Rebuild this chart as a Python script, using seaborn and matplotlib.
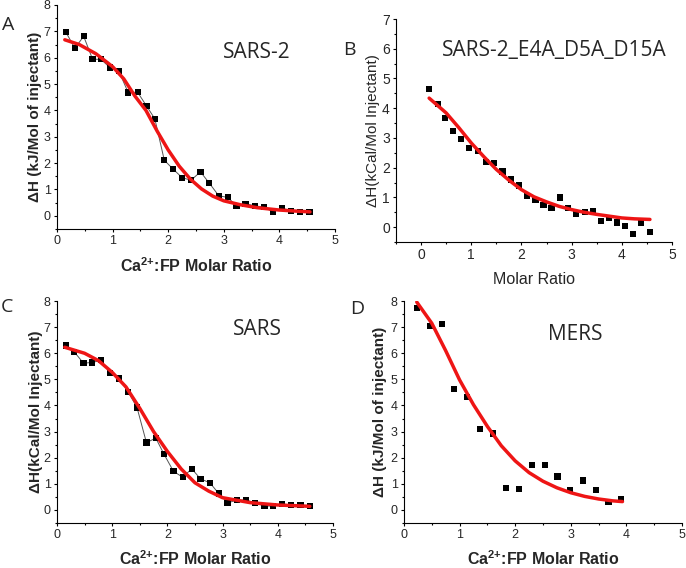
import matplotlib
matplotlib.use('Agg')
import matplotlib.pyplot as plt
import seaborn as sns
import pandas as pd
from matplotlib.ticker import MultipleLocator

# Panel A: SARS-2 (kJ/mol)
a_ratio = [0.16, 0.32, 0.48, 0.64, 0.79, 0.95, 1.11, 1.28, 1.45, 1.61, 1.76, 1.93, 2.09, 2.25,
           2.41, 2.58, 2.74, 2.91, 3.07, 3.23, 3.39, 3.56, 3.73, 3.88, 4.05, 4.21, 4.37, 4.54]
a_dh = [6.97, 6.36, 6.81, 5.94, 5.94, 5.63, 5.50, 4.68, 4.69, 4.17, 3.68, 2.11, 1.77, 1.45,
        1.35, 1.67, 1.24, 0.76, 0.70, 0.38, 0.46, 0.38, 0.33, 0.15, 0.29, 0.19, 0.15, 0.15]
a_fit_x = [0.14, 0.4, 0.7, 1.0, 1.2, 1.4, 1.6, 1.8, 2.0, 2.2, 2.4, 2.6, 2.8, 3.0, 3.3, 3.6, 4.0, 4.3, 4.55]
a_fit_y = [6.68, 6.50, 6.15, 5.66, 5.20, 4.55, 4.00, 3.22, 2.50, 1.88, 1.39, 1.02, 0.75, 0.57,
           0.42, 0.31, 0.22, 0.18, 0.15]

# Panel B: SARS-2_E4A_D5A_D15A (kcal/mol)
b_ratio = [0.16, 0.33, 0.48, 0.64, 0.80, 0.96, 1.13, 1.29, 1.46, 1.62, 1.79, 1.95, 2.11, 2.28,
           2.44, 2.60, 2.77, 2.93, 3.09, 3.26, 3.42, 3.58, 3.75, 3.91, 4.06, 4.23, 4.38, 4.56]
b_dh = [4.64, 4.14, 3.67, 3.23, 2.96, 2.67, 2.57, 2.18, 2.17, 1.87, 1.60, 1.40, 1.04, 0.92,
        0.75, 0.65, 1.00, 0.65, 0.45, 0.51, 0.53, 0.22, 0.30, 0.16, 0.04, -0.23, 0.15, -0.16]
b_fit_x = [0.16, 0.5, 0.75, 1.0, 1.25, 1.5, 1.75, 2.0, 2.25, 2.5, 2.75, 3.0, 3.25, 3.5, 3.75, 4.0, 4.25, 4.56]
b_fit_y = [4.34, 3.84, 3.35, 2.83, 2.37, 1.94, 1.58, 1.26, 1.02, 0.85, 0.70, 0.59, 0.50, 0.43,
           0.37, 0.31, 0.28, 0.26]

# Panel C: SARS (kcal/mol)
c_ratio = [0.16, 0.31, 0.48, 0.64, 0.80, 0.96, 1.13, 1.29, 1.45, 1.62, 1.79, 1.94, 2.11, 2.28,
           2.44, 2.60, 2.77, 2.93, 3.09, 3.26, 3.43, 3.59, 3.76, 3.92, 4.08, 4.24, 4.41, 4.58]
c_dh = [6.30, 6.06, 5.62, 5.65, 5.73, 5.25, 5.03, 4.52, 3.92, 2.58, 2.75, 2.13, 1.48, 1.25,
        1.58, 1.19, 1.04, 0.63, 0.27, 0.38, 0.38, 0.27, 0.15, 0.15, 0.23, 0.19, 0.19, 0.15]
c_fit_x = [0.14, 0.5, 0.75, 1.0, 1.25, 1.5, 1.75, 2.0, 2.25, 2.5, 2.75, 3.0, 3.5, 4.0, 4.58]
c_fit_y = [6.23, 6.00, 5.72, 5.27, 4.71, 3.89, 3.00, 2.24, 1.57, 1.04, 0.72, 0.47, 0.28, 0.19, 0.14]

# Panel D: MERS (kJ/mol)
d_ratio = [0.23, 0.47, 0.68, 0.90, 1.14, 1.37, 1.60, 1.84, 2.07, 2.30, 2.53, 2.76, 2.99, 3.22,
           3.46, 3.68, 3.90]
d_dh = [7.73, 7.03, 7.12, 4.63, 4.32, 3.10, 2.93, 0.83, 0.80, 1.73, 1.73, 1.28, 0.75, 1.13,
        0.77, 0.30, 0.41]
d_fit_x = [0.23, 0.5, 0.75, 1.0, 1.25, 1.5, 1.75, 2.0, 2.25, 2.5, 2.75, 3.0, 3.25, 3.5, 3.75, 3.93]
d_fit_y = [7.96, 7.15, 6.10, 4.98, 4.03, 3.20, 2.46, 1.88, 1.43, 1.10, 0.85, 0.66, 0.52, 0.42,
           0.35, 0.32]

sns.set_style('ticks')
plt.rcParams['font.family'] = ['Liberation Sans', 'DejaVu Sans']
plt.rcParams['mathtext.fontset'] = 'custom'
plt.rcParams['mathtext.rm'] = 'Liberation Sans'
plt.rcParams['mathtext.bf'] = 'Liberation Sans:bold'

fig = plt.figure(figsize=(6.86, 5.68), dpi=100)

xlab_bold = r'Ca$^{\mathbf{2{+}}}$:FP Molar Ratio'

panels = [
    dict(rect=[0.0831, 0.5968, 0.4052, 0.3944], x=a_ratio, y=a_dh, fx=a_fit_x, fy=a_fit_y,
         connect=True, xlim=(0, 5), ylim=(-0.5, 8), ylabel='ΔH (kJ/Mol of injectant)',
         xlabel=xlab_bold, bold=True, title='SARS-2', tpos=(0.597, 0.79), letter='A',
         lpos=(8, 25), ylc=-0.054, xlc=-0.12, tick=9),
    dict(rect=[0.5773, 0.5739, 0.4023, 0.3926], x=b_ratio, y=b_dh, fx=b_fit_x, fy=b_fit_y,
         connect=False, xlim=(-0.5, 5), ylim=(-0.5, 7), ylabel='ΔH(kCal/Mol Injectant)',
         xlabel='Molar Ratio', bold=False, title='SARS-2_E4A_D5A_D15A', tpos=(0.167, 0.861),
         letter='B', lpos=(349, 50), ylc=-0.058, xlc=-0.135, tick=10),
    dict(rect=[0.0831, 0.0792, 0.4023, 0.3908], x=c_ratio, y=c_dh, fx=c_fit_x, fy=c_fit_y,
         connect=True, xlim=(0, 5), ylim=(-0.5, 8), ylabel='ΔH(kCal/Mol Injectant)',
         xlabel=xlab_bold, bold=True, title='SARS', tpos=(0.638, 0.874), letter='C',
         lpos=(7, 307), ylc=-0.051, xlc=-0.12, tick=9),
    dict(rect=[0.5889, 0.0792, 0.4052, 0.3908], x=d_ratio, y=d_dh, fx=d_fit_x, fy=d_fit_y,
         connect=False, xlim=(0, 5), ylim=(-0.5, 8), ylabel='ΔH (kJ/Mol of injectant)',
         xlabel=xlab_bold, bold=True, title='MERS', tpos=(0.518, 0.851), letter='D',
         lpos=(357, 309), ylc=-0.061, xlc=-0.12, tick=9),
]

for p in panels:
    ax = fig.add_axes(p['rect'])
    df = pd.DataFrame({'ratio': p['x'], 'dh': p['y']})
    fit = pd.DataFrame({'ratio': p['fx'], 'dh': p['fy']})

    # thin grey line joining the points (only A and C)
    if p['connect']:
        sns.lineplot(data=df, x='ratio', y='dh', ax=ax, color='#555555', linewidth=0.7,
                     sort=False, estimator=None, zorder=2)
    sns.scatterplot(data=df, x='ratio', y='dh', ax=ax, marker='s', s=20, color='black',
                    edgecolor='none', zorder=3)
    sns.lineplot(data=fit, x='ratio', y='dh', ax=ax, color='#ee1515', linewidth=2.5,
                 sort=False, estimator=None, zorder=4)

    ax.set_xlim(p['xlim'])
    ax.set_ylim(p['ylim'])
    ax.xaxis.set_major_locator(MultipleLocator(1))
    ax.xaxis.set_minor_locator(MultipleLocator(0.5))
    ax.yaxis.set_major_locator(MultipleLocator(1))
    ax.yaxis.set_minor_locator(MultipleLocator(0.5))
    ax.tick_params(which='major', length=2.5, width=0.8, labelsize=p['tick'], pad=2, color='black')
    ax.tick_params(which='minor', length=1.5, width=0.8, color='black')
    sns.despine(ax=ax)
    for s in ['left', 'bottom']:
        ax.spines[s].set_linewidth(0.8)
        ax.spines[s].set_color('black')

    weight = 'bold' if p['bold'] else 'normal'
    lsize = 11.5 if p['bold'] else 11.5
    ax.set_xlabel(p['xlabel'], fontsize=lsize, fontweight=weight, va='top')
    ax.set_ylabel(p['ylabel'], fontsize=11 if p['bold'] else 11, fontweight=weight)
    ax.xaxis.set_label_coords(0.5, p['xlc'])
    ax.yaxis.set_label_coords(p['ylc'], 0.5)

    ax.text(p['tpos'][0], p['tpos'][1], p['title'], transform=ax.transAxes, fontsize=15,
            family='Open Sans', ha='left', va='center')
    fig.text(p['lpos'][0] / 686, 1 - p['lpos'][1] / 568, p['letter'], fontsize=14,
             family='Open Sans', ha='center', va='center')

plt.savefig('out.png', dpi=100)
